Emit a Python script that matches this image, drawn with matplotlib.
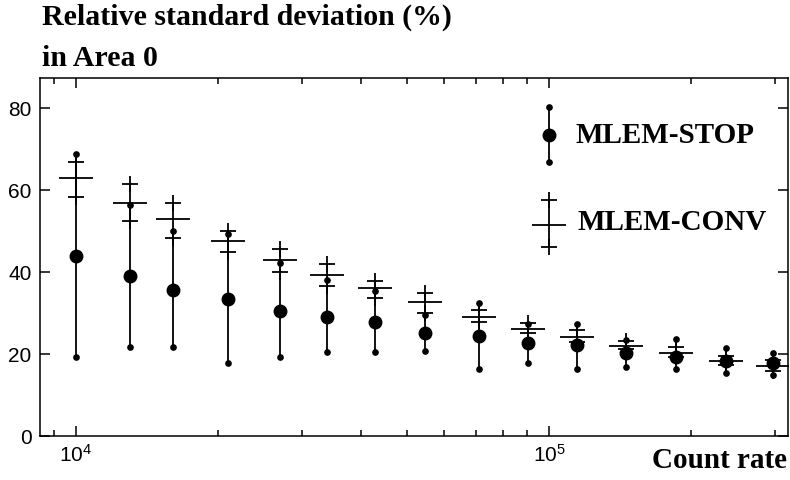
import numpy as np
import matplotlib.pyplot as plt
from matplotlib.ticker import LogLocator, NullFormatter

# Count rate (x) and relative standard deviation in Area 0 (%)
count_rate = [10000, 13000, 16000, 21000, 27000, 34000, 42800, 54800,
              71100, 90100, 114600, 145600, 186000, 236500, 297700]

# MLEM-STOP: mean with min/max
stop_mean = [43.9, 39.1, 35.6, 33.4, 30.5, 29.0, 27.9, 25.2, 24.4, 22.6, 22.2, 20.3, 19.4, 18.4, 17.9]
stop_low = [19.2, 21.8, 21.8, 17.7, 19.4, 20.4, 20.4, 20.8, 16.3, 17.7, 16.3, 16.8, 16.3, 15.3, 14.9]
stop_high = [68.8, 56.4, 50.0, 49.2, 42.3, 38.1, 35.5, 29.5, 32.5, 27.3, 27.3, 23.4, 23.7, 21.6, 20.3]

# MLEM-CONV: mean with lower/upper bars
conv_mean = [62.9, 57.0, 52.9, 47.5, 43.0, 39.3, 36.1, 32.6, 29.1, 26.2, 24.2, 22.0, 20.3, 18.4, 17.2]
conv_low = [58.4, 52.5, 48.3, 44.9, 40.1, 36.7, 33.8, 30.1, 27.8, 25.2, 23.0, 21.2, 19.4, 17.3, 15.9]
conv_high = [67.0, 61.4, 56.9, 50.1, 45.7, 42.0, 37.8, 34.8, 30.8, 27.7, 25.9, 23.3, 21.8, 19.5, 18.6]

plt.rcParams['font.family'] = ['Liberation Sans', 'DejaVu Sans']
plt.rcParams['mathtext.fontset'] = 'custom'
plt.rcParams['mathtext.rm'] = 'Liberation Sans'
serif = 'Liberation Serif'

fig = plt.figure(figsize=(7.9, 4.8), dpi=100)
ax = fig.add_axes([40 / 790, 44 / 480, 748 / 790, 358 / 480])

x = np.array(count_rate)
lw = 1.3

# MLEM-STOP
ax.vlines(x, stop_low, stop_high, color='black', lw=lw, zorder=2)
ax.plot(x, stop_low, 'o', color='black', ms=3.8, zorder=3)
ax.plot(x, stop_high, 'o', color='black', ms=3.8, zorder=3)
ax.plot(x, stop_mean, 'o', color='black', ms=9, zorder=4)

# MLEM-CONV
ax.vlines(x, conv_low, conv_high, color='black', lw=lw, zorder=2)
ax.plot(x, conv_low, '+', color='black', ms=11.5, mew=lw, zorder=3)
ax.plot(x, conv_high, '+', color='black', ms=11.5, mew=lw, zorder=3)
ax.plot(x, conv_mean, '_', color='black', ms=24, mew=lw, zorder=3)

ax.set_xscale('log')
ax.set_xlim(8391, 320100)
ax.set_ylim(0, 87.4)
ax.set_yticks([0, 20, 40, 60, 80])

ax.xaxis.set_minor_locator(LogLocator(base=10, subs=np.arange(2, 10)))
ax.xaxis.set_minor_formatter(NullFormatter())
ax.tick_params(axis='both', which='both', direction='in', top=True, right=True, width=1.1)
ax.tick_params(axis='both', which='major', length=7)
ax.tick_params(axis='x', which='minor', length=4.5)
ax.tick_params(axis='y', labelsize=15, pad=6)
ax.tick_params(axis='x', labelsize=15, pad=6)
for s in ax.spines.values():
    s.set_linewidth(1.1)

# legend drawn by hand
lx = 0.6805
ax.plot([lx, lx], [0.765, 0.920], color='black', lw=lw, transform=ax.transAxes)
ax.plot([lx, lx], [0.765, 0.920], 'o', color='black', ms=3.8, transform=ax.transAxes)
ax.plot([lx], [0.841], 'o', color='black', ms=9, transform=ax.transAxes)
ax.text(0.716, 0.838, 'MLEM-STOP', transform=ax.transAxes, family=serif,
        fontweight='bold', fontsize=21, va='center', ha='left')

ax.plot([lx, lx], [0.528, 0.659], color='black', lw=lw, transform=ax.transAxes)
ax.plot([lx, lx], [0.528, 0.659], '+', color='black', ms=11.5, mew=lw, transform=ax.transAxes)
ax.plot([lx], [0.589], '_', color='black', ms=24, mew=lw, transform=ax.transAxes)
ax.text(0.719, 0.595, 'MLEM-CONV', transform=ax.transAxes, family=serif,
        fontweight='bold', fontsize=21, va='center', ha='left')

fig.text(42 / 790, 1 - 25 / 480, 'Relative standard deviation (%)', family=serif,
         fontweight='bold', fontsize=21.5, ha='left', va='baseline')
fig.text(42 / 790, 1 - 66 / 480, 'in Area 0', family=serif,
         fontweight='bold', fontsize=21.5, ha='left', va='baseline')
fig.text(787 / 790, 1 - 468 / 480, 'Count rate', family=serif,
         fontweight='bold', fontsize=21, ha='right', va='baseline')

plt.savefig('out.png', dpi=100)
plt.close()
